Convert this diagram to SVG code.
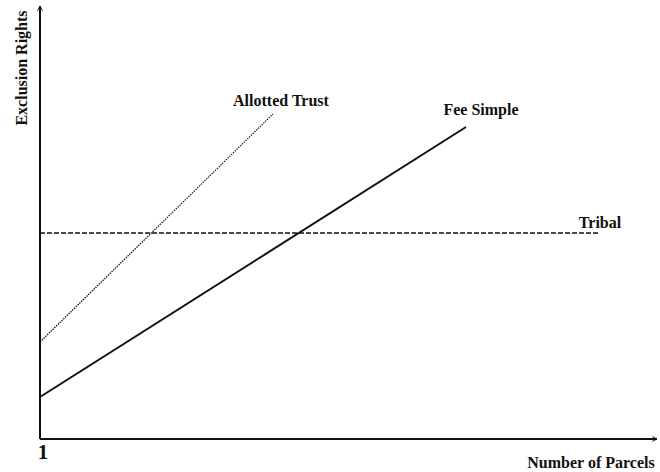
<svg xmlns="http://www.w3.org/2000/svg" width="660" height="472" viewBox="0 0 660 472">
<style>
text{font-family:"Liberation Serif","Times New Roman",serif;font-weight:bold;fill:#111;font-size:16px}
.ax{stroke:#111;stroke-width:2;fill:none}
.ln{stroke:#111;fill:none}
</style>
<defs>
<marker id="ah" viewBox="0 0 10 10" refX="9" refY="5" markerWidth="6" markerHeight="6" orient="auto" markerUnits="userSpaceOnUse">
<path d="M1,1 L9,5 L1,9" fill="none" stroke="#111" stroke-width="1.5"/>
</marker>
</defs>
<rect width="660" height="472" fill="#fff"/>
<g id="connectors">
<path class="ax" d="M40,439 L40,6" marker-end="url(#ah)"/>
<path class="ax" d="M40,439 L657,439" marker-end="url(#ah)"/>
<path class="ln" d="M40,233 L600,233" stroke-width="1.5" stroke-dasharray="5,2"/>
<path class="ln" d="M40,342 L273,114" stroke-width="1.2" stroke-dasharray="1.5,1"/>
<path class="ln" d="M40,397 L466,127" stroke-width="2"/>
</g>
<g id="y-label"><text transform="translate(27,68) rotate(-90)" text-anchor="middle">Exclusion Rights</text></g>
<g id="x-label"><text x="591" y="468" text-anchor="middle">Number of Parcels</text></g>
<g id="one"><text x="43" y="459" text-anchor="middle" style="font-size:21px">1</text></g>
<g id="allotted"><text x="281" y="106" text-anchor="middle">Allotted Trust</text></g>
<g id="fee"><text x="481" y="115" text-anchor="middle">Fee Simple</text></g>
<g id="tribal"><text x="600" y="228" text-anchor="middle">Tribal</text></g>
</svg>
